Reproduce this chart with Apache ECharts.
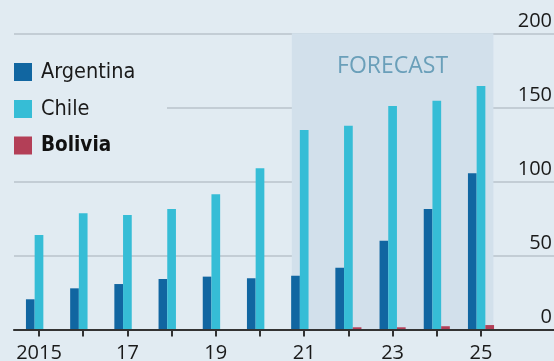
<!DOCTYPE html>
<html>
<head>
<meta charset="utf-8">
<script src="https://cdn.jsdelivr.net/npm/echarts@6/dist/echarts.min.js"></script>
<style>
html,body{margin:0;padding:0;background:#e1ebf2;}
#c{width:554px;height:361px;}
</style>
</head>
<body>
<div id="c"></div>
<script>
const years = ['2015','2016','2017','2018','2019','2020','2021','2022','2023','2024','2025'];
const tickLabels = ['2015','16','17','18','19','20','21','22','23','24','25'];
const argentina = [20.4, 27.8, 30.7, 34.1, 35.7, 34.6, 36.3, 41.7, 60, 81.4, 105.5];
const chile = [63.8, 78.5, 77.3, 81.4, 91.3, 108.8, 134.7, 137.6, 150.9, 154.5, 164.4];
const bolivia = [0, 0, 0, 0, 0, 0, 0, 1.5, 1.5, 2.2, 3];
const yMin = 0, yMax = 200, yInterval = 50;
const forecastFrom = '2021', forecastTo = '2025';
const forecastLabel = 'FORECAST';

const BG = '#e1ebf2';
const numFont = 'Open Sans';
const legFont = '"DejaVu Sans Condensed", "DejaVu Sans", sans-serif';
const half = 0.28;

const chart = echarts.init(document.getElementById('c'), null, {renderer: 'canvas'});
chart.setOption({
  backgroundColor: BG,
  animation: false,
  grid: [
    {left: 16.9, width: 486.2, top: 33.3, bottom: 31.5, outerBoundsMode: 'none', containLabel: false},
    {left: 14, right: 0, top: 33.3, bottom: 31.5, outerBoundsMode: 'none', containLabel: false}
  ],
  xAxis: [
    {
      type: 'category', gridIndex: 0, data: years,
      axisLine: {show: false},
      axisTick: {show: true, alignWithLabel: true, interval: 0, length: 7, lineStyle: {color: '#333', width: 2}},
      axisLabel: {
        interval: 1, margin: 14, fontFamily: numFont, fontSize: 20, color: '#1a1a1a',
        formatter: (v, i) => tickLabels[i]
      },
      z: 3
    },
    {
      type: 'value', gridIndex: 1, min: 0, max: 1,
      axisLine: {show: true, onZero: false, lineStyle: {color: '#333', width: 2.2}},
      axisTick: {show: false}, axisLabel: {show: false}, splitLine: {show: false},
      z: 3
    },
    {
      type: 'value', gridIndex: 0, min: -0.5, max: years.length - 0.5, show: false
    }
  ],
  yAxis: [
    {type: 'value', gridIndex: 0, min: yMin, max: yMax, interval: yInterval, show: false},
    {
      type: 'value', gridIndex: 1, min: yMin, max: yMax, interval: yInterval, position: 'right',
      axisLine: {show: false}, axisTick: {show: false},
      splitLine: {show: true, lineStyle: {color: '#c3cdd5', width: 1.8}},
      axisLabel: {
        inside: true, margin: 2, fontFamily: numFont, fontSize: 20, color: '#1a1a1a',
        verticalAlign: 'bottom', lineHeight: 20, padding: [0, 0, 2, 0]
      },
      z: 1
    }
  ],
  legend: {
    orient: 'vertical', left: 14, top: 61, itemWidth: 18, itemHeight: 18, itemGap: 15,
    icon: 'rect', z: 10, padding: 0,
    textStyle: {
      fontFamily: legFont, fontSize: 21.5, color: '#1a1a1a', padding: [0, 0, 0, 4],
      rich: {b: {fontFamily: legFont, fontSize: 20.5, fontWeight: 'bold', color: '#111'}}
    },
    formatter: n => n === 'Bolivia' ? '{b|' + n + '}' : n,
    data: ['Argentina', 'Chile', 'Bolivia']
  },
  graphic: [
    {type: 'rect', left: 0, top: 40, shape: {width: 167, height: 128}, style: {fill: BG}, z: 5, silent: true}
  ],
  series: [
    {
      type: 'line', xAxisIndex: 2, yAxisIndex: 0, data: [], symbol: 'none', z: 0,
      markArea: {
        silent: true,
        itemStyle: {color: '#d2e0eb'},
        label: {
          show: true, position: 'insideTop', distance: 22, fontFamily: numFont, fontSize: 23,
          color: '#6a9fb9', formatter: forecastLabel
        },
        data: [[
          {xAxis: years.indexOf(forecastFrom) - half, yAxis: yMax},
          {xAxis: years.indexOf(forecastTo) + half, yAxis: yMin}
        ]]
      }
    },
    {name: 'Argentina', type: 'bar', xAxisIndex: 0, yAxisIndex: 0, data: argentina, barWidth: 8.7, barGap: '0%', itemStyle: {color: '#1166a1'}, z: 2},
    {name: 'Chile', type: 'bar', xAxisIndex: 0, yAxisIndex: 0, data: chile, barWidth: 8.7, barGap: '0%', itemStyle: {color: '#36bdd6'}, z: 2},
    {name: 'Bolivia', type: 'bar', xAxisIndex: 0, yAxisIndex: 0, data: bolivia, barWidth: 8.7, barGap: '0%', itemStyle: {color: '#b33f57'}, z: 2}
  ]
});
</script>
</body>
</html>
